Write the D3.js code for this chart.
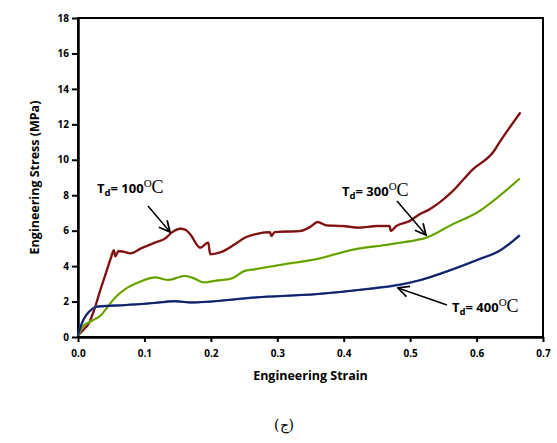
<!DOCTYPE html>
<html>
<head>
<meta charset="utf-8">
<script src="https://cdn.jsdelivr.net/npm/d3@7"></script>
<style>
  body { margin: 0; background: #fff; }
  svg { display: block; }
</style>
</head>
<body>
<svg id="chart"></svg>
<script>
// strain / stress readings for the three curves
var strain100 = [0, 0.008, 0.016, 0.025, 0.034, 0.042, 0.049, 0.054, 0.056, 0.061, 0.07, 0.079, 0.095, 0.116, 0.131, 0.141, 0.154, 0.162, 0.169, 0.184, 0.196, 0.199, 0.216, 0.236, 0.251, 0.266, 0.289, 0.291, 0.296, 0.334, 0.349, 0.361, 0.374, 0.399, 0.424, 0.449, 0.469, 0.471, 0.479, 0.499, 0.514, 0.529, 0.544, 0.564, 0.594, 0.626, 0.634, 0.666];
var stress100 = [0.1, 0.4, 0.75, 1.6, 2.7, 3.6, 4.4, 4.9, 4.55, 4.85, 4.8, 4.72, 5.0, 5.33, 5.55, 5.89, 6.11, 6.05, 5.79, 5.04, 5.33, 4.67, 4.8, 5.23, 5.6, 5.79, 5.92, 5.7, 5.92, 5.98, 6.2, 6.49, 6.3, 6.26, 6.17, 6.26, 6.26, 5.98, 6.26, 6.54, 6.92, 7.2, 7.58, 8.23, 9.45, 10.48, 10.95, 12.67];

var strain300 = [0, 0.006, 0.021, 0.034, 0.044, 0.056, 0.071, 0.091, 0.116, 0.136, 0.161, 0.174, 0.189, 0.206, 0.231, 0.251, 0.266, 0.309, 0.359, 0.409, 0.469, 0.509, 0.52, 0.564, 0.604, 0.634, 0.665];
var stress300 = [0.1, 0.54, 0.92, 1.2, 1.67, 2.23, 2.7, 3.08, 3.36, 3.22, 3.45, 3.32, 3.08, 3.17, 3.3, 3.73, 3.82, 4.1, 4.39, 4.89, 5.23, 5.47, 5.55, 6.36, 7.1, 7.95, 8.94];

var strain400 = [0, 0.005, 0.01, 0.016, 0.022, 0.03, 0.071, 0.111, 0.146, 0.171, 0.196, 0.266, 0.359, 0.434, 0.484, 0.514, 0.564, 0.604, 0.634, 0.665];
var stress400 = [0.1, 0.7, 1.1, 1.4, 1.6, 1.72, 1.8, 1.91, 2.02, 1.95, 1.99, 2.23, 2.42, 2.7, 2.95, 3.2, 3.82, 4.39, 4.85, 5.74];

var xTicks = [0, 0.1, 0.2, 0.3, 0.4, 0.5, 0.6, 0.7];
var yTicks = [0, 2, 4, 6, 8, 10, 12, 14, 16, 18];

var labels = [
  {temp: "300", lx: 342, ly: 196, ax1: 397, ay1: 201, ax2: 426, ay2: 235},
  {temp: "100", lx: 97, ly: 193, ax1: 148, ay1: 206, ax2: 170, ay2: 232},
  {temp: "400", lx: 452, ly: 312, ax1: 447, ay1: 305, ax2: 398, ay2: 288}
];

var width = 557, height = 443;
var plotLeft = 78, plotRight = 543, plotTop = 18, plotBottom = 337;

var svg = d3.select("#chart")
  .attr("width", width)
  .attr("height", height);

var x = d3.scaleLinear().domain([0, 0.7]).range([plotLeft, plotRight]);
var y = d3.scaleLinear().domain([0, 18]).range([plotBottom, plotTop]);

// frame
svg.append("rect")
  .attr("x", plotLeft).attr("y", plotTop)
  .attr("width", plotRight - plotLeft).attr("height", plotBottom - plotTop)
  .attr("fill", "none").attr("stroke", "#000").attr("stroke-width", 2);

var xAxis = svg.append("g")
  .attr("transform", "translate(0," + plotBottom + ")")
  .call(d3.axisBottom(x).tickValues(xTicks).tickFormat(d3.format(".1f")).tickSize(5).tickSizeOuter(0));
var yAxis = svg.append("g")
  .attr("transform", "translate(" + plotLeft + ",0)")
  .call(d3.axisLeft(y).tickValues(yTicks).tickSize(6).tickSizeOuter(0));

[xAxis, yAxis].forEach(function (g) {
  g.select(".domain").attr("stroke", "#000").attr("stroke-width", 2.5);
  g.selectAll(".tick line").attr("stroke", "#000").attr("stroke-width", 2);
  g.selectAll(".tick text")
    .attr("fill", "#000")
    .style("font-family", "'Open Sans', sans-serif")
    .style("font-weight", "bold")
    .style("font-size", "10px");
});
xAxis.selectAll(".tick text").attr("dy", "1.2em");
yAxis.selectAll(".tick text").attr("x", -9);

// axis titles
svg.append("text")
  .attr("x", (plotLeft + plotRight) / 2).attr("y", 380)
  .attr("text-anchor", "middle")
  .style("font-family", "'Open Sans', sans-serif")
  .style("font-weight", "bold")
  .style("font-size", "12.5px")
  .text("Engineering Strain");

svg.append("text")
  .attr("transform", "translate(39," + (plotTop + plotBottom) / 2 + ") rotate(-90)")
  .attr("text-anchor", "middle")
  .style("font-family", "'Open Sans', sans-serif")
  .style("font-weight", "bold")
  .style("font-size", "12.5px")
  .text("Engineering Stress (MPa)");

// curves
var line = d3.line()
  .curve(d3.curveMonotoneX)
  .x(function (d) { return x(d[0]); })
  .y(function (d) { return y(d[1]); });

var series = [
  {xs: strain100, ys: stress100, color: "#6e1616", edge: "#c03030"},
  {xs: strain300, ys: stress300, color: "#5e9a14", edge: "#b0dc20"},
  {xs: strain400, ys: stress400, color: "#151f5e", edge: "#3a5ab8"}
];

series.forEach(function (s) {
  var pts = d3.zip(s.xs, s.ys);
  svg.append("path")
    .datum(pts)
    .attr("d", line)
    .attr("fill", "none")
    .attr("stroke", s.edge)
    .attr("stroke-width", 2.4)
    .attr("stroke-linejoin", "round");
  svg.append("path")
    .datum(pts)
    .attr("d", line)
    .attr("fill", "none")
    .attr("stroke", s.color)
    .attr("stroke-width", 1.7)
    .attr("stroke-linejoin", "round");
});

// annotations
svg.append("defs").append("marker")
  .attr("id", "arrow")
  .attr("viewBox", "0 0 10 10")
  .attr("refX", 9).attr("refY", 5)
  .attr("markerWidth", 9).attr("markerHeight", 9)
  .attr("orient", "auto")
  .append("path")
  .attr("d", "M1,1 L9,5 L1,9")
  .attr("fill", "none")
  .attr("stroke", "#000")
  .attr("stroke-width", 1.3);

labels.forEach(function (l) {
  var t = svg.append("text")
    .attr("x", l.lx).attr("y", l.ly)
    .style("font-family", "'Open Sans', sans-serif")
    .style("font-weight", "bold")
    .style("font-size", "13px");
  t.append("tspan").text("T");
  t.append("tspan").attr("dy", 3).style("font-size", "9.5px").text("d");
  t.append("tspan").attr("dy", -3).text("= " + l.temp);
  t.append("tspan").attr("dy", -6)
    .style("font-family", "'Liberation Serif', serif")
    .style("font-weight", "normal")
    .style("font-size", "11px").text("O");
  t.append("tspan").attr("dy", 6)
    .style("font-family", "'Liberation Serif', serif")
    .style("font-weight", "normal")
    .style("font-size", "18px").text("C");

  svg.append("line")
    .attr("x1", l.ax1).attr("y1", l.ay1)
    .attr("x2", l.ax2).attr("y2", l.ay2)
    .attr("stroke", "#000")
    .attr("stroke-width", 1.5)
    .attr("marker-end", "url(#arrow)");
});

// caption
svg.append("text")
  .attr("x", 284).attr("y", 430)
  .attr("text-anchor", "middle")
  .style("font-family", "'DejaVu Serif', serif")
  .style("font-size", "14px")
  .text("(ج)");
</script>
</body>
</html>
